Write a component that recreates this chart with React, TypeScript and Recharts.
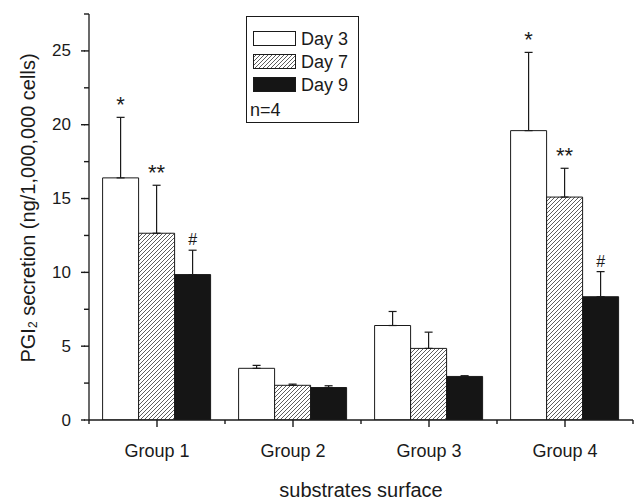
import React from 'react';
import { BarChart, Bar, XAxis, YAxis, ErrorBar, LabelList, Label } from 'recharts';

const categories = ['Group 1', 'Group 2', 'Group 3', 'Group 4'];
const seriesNames = ['Day 3', 'Day 7', 'Day 9'];

const day3 = [16.4, 3.5, 6.4, 19.6];
const day3Err = [4.1, 0.2, 0.95, 5.3];
const day7 = [12.65, 2.35, 4.85, 15.1];
const day7Err = [3.25, 0.08, 1.1, 1.95];
const day9 = [9.85, 2.2, 2.95, 8.35];
const day9Err = [1.65, 0.12, 0.05, 1.7];

const day3Marks = ['*', '', '', '*'];
const day7Marks = ['**', '', '', '**'];
const day9Marks = ['#', '', '', '#'];

const yTicks = [0, 2.5, 5, 7.5, 10, 12.5, 15, 17.5, 20, 22.5, 25, 27.5];

const data = categories.map((name, i) => ({
  name,
  day3: day3[i],
  day3Err: [0, day3Err[i]],
  day3Mark: day3Marks[i],
  day7: day7[i],
  day7Err: [0, day7Err[i]],
  day7Mark: day7Marks[i],
  day9: day9[i],
  day9Err: [0, day9Err[i]],
  day9Mark: day9Marks[i],
}));

const FONT = '"Liberation Sans", Arial, sans-serif';
const INK = '#1a1a1a';
const W = 636;
const H = 501;
const MARGIN = { top: 14, right: 3, left: 29, bottom: 0 };
const Y_AXIS_W = 60;
const PLOT_W = W - MARGIN.left - MARGIN.right - Y_AXIS_W;
const BAND = PLOT_W / categories.length;

// built-in tick lines are 5px; majors get 3px more drawn here
const YTick = (props: any) => {
  const { x, y, payload } = props;
  const major = payload.value % 5 === 0;
  return (
    <g>
      {major && <path d={`M${x - 3},${y}H${x + 1}`} stroke={INK} strokeWidth={1.4} fill="none" />}
      {major && (
        <text x={x - 13} y={y} textAnchor="end" dominantBaseline="central" fontSize={17} fontFamily={FONT} fill={INK}>
          {payload.value}
        </text>
      )}
    </g>
  );
};

const XTick = (props: any) => {
  const { x, y, payload, index } = props;
  const last = index === categories.length - 1;
  const axisY = y - 7;
  return (
    <g>
      <path d={`M${x - BAND / 2},${axisY}V${axisY + 4}`} stroke={INK} strokeWidth={1.4} fill="none" />
      {last && <path d={`M${x + BAND / 2},${axisY}V${axisY + 4}`} stroke={INK} strokeWidth={1.4} fill="none" />}
      <text x={x} y={axisY + 31} textAnchor="middle" dominantBaseline="central" fontSize={18} fontFamily={FONT} fill={INK}>
        {payload.value}
      </text>
    </g>
  );
};

const makeMark = (vals: number[], errs: number[], size: number) => (props: any) => {
  const { x, y, width, height, value, index } = props;
  if (!value) return null;
  // pixels per unit taken from the bar itself
  const ppu = height / vals[index];
  const top = y - errs[index] * ppu;
  return (
    <text x={x + width / 2} y={top - 5} textAnchor="middle" fontSize={size} fontFamily={FONT} fill={INK}>
      {value}
    </text>
  );
};

const hatchPath = 'M-1,1 l2,-2 M0,4 l4,-4 M3,5 l2,-2';

const LegendBox = () => {
  const fills = ['#ffffff', 'url(#lhatch)', '#151515'];
  return (
    <div
      style={{
        position: 'absolute',
        left: 246,
        top: 16,
        border: `1px solid ${INK}`,
        background: '#fff',
        width: 113,
        height: 107,
        boxSizing: 'border-box',
        fontFamily: FONT,
        fontSize: 18,
        color: INK,
      }}
    >
      {seriesNames.map((n, i) => (
        <div key={n} style={{ position: 'absolute', left: 6, top: 14 + i * 23, display: 'flex', alignItems: 'center', height: 15 }}>
          <svg width={44} height={15} style={{ display: 'block' }}>
            <defs>
              <pattern id="lhatch" patternUnits="userSpaceOnUse" width={4} height={4}>
                <rect width={4} height={4} fill="#fff" />
                <path d={hatchPath} stroke="#333" strokeWidth={0.8} />
              </pattern>
            </defs>
            <rect x={0.5} y={0.5} width={42} height={14} fill={fills[i]} stroke={INK} strokeWidth={1} />
          </svg>
          <span style={{ marginLeft: 4, lineHeight: '16px' }}>{n}</span>
        </div>
      ))}
      <div style={{ position: 'absolute', left: 3, top: 84, lineHeight: '18px' }}>n=4</div>
    </div>
  );
};

const YLabel = (props: any) => {
  const { viewBox } = props;
  const cx = 28;
  const cy = viewBox.y + viewBox.height / 2 - 9;
  return (
    <text
      x={cx}
      y={cy}
      transform={`rotate(-90, ${cx}, ${cy})`}
      textAnchor="middle"
      dominantBaseline="central"
      fontSize={20}
      fontFamily={FONT}
      fill={INK}
    >
      PGI
      <tspan fontSize={12} dy={5}>2</tspan>
      <tspan dy={-5}> secretion (ng/1,000,000 cells)</tspan>
    </text>
  );
};

export default function App() {
  return (
    <div style={{ position: 'absolute', left: 0, top: 0, width: W, height: H, background: '#fff' }}>
      <BarChart width={W} height={H} data={data} margin={MARGIN} barCategoryGap="10%" barGap={0}>
        <defs>
          <pattern id="hatch" patternUnits="userSpaceOnUse" width={4} height={4}>
            <rect width={4} height={4} fill="#fff" />
            <path d={hatchPath} stroke="#333" strokeWidth={0.8} />
          </pattern>
        </defs>
        <XAxis
          dataKey="name"
          height={81}
          axisLine={{ stroke: INK, strokeWidth: 1.3 }}
          tickLine={{ stroke: INK, strokeWidth: 1.4 }}
          tickSize={7}
          tickMargin={0}
          tick={<XTick />}
          interval={0}
        >
          <Label
            value="substrates surface"
            position="insideBottom"
            offset={4}
            style={{ fontSize: 20, fontFamily: FONT, fill: INK }}
          />
        </XAxis>
        <YAxis
          width={Y_AXIS_W}
          domain={[0, 27.5]}
          ticks={yTicks}
          interval={0}
          axisLine={{ stroke: INK, strokeWidth: 1.3 }}
          tickLine={{ stroke: INK, strokeWidth: 1.4 }}
          tickSize={5}
          tickMargin={0}
          tick={<YTick />}
          allowDataOverflow
        >
          <Label content={<YLabel />} />
        </YAxis>
        <Bar dataKey="day3" name="Day 3" fill="#ffffff" stroke={INK} strokeWidth={1} isAnimationActive={false}>
          <ErrorBar dataKey="day3Err" width={4} stroke={INK} strokeWidth={1.2} direction="y" />
          <LabelList dataKey="day3Mark" content={makeMark(day3, day3Err, 22)} />
        </Bar>
        <Bar dataKey="day7" name="Day 7" fill="url(#hatch)" stroke={INK} strokeWidth={1} isAnimationActive={false}>
          <ErrorBar dataKey="day7Err" width={4} stroke={INK} strokeWidth={1.2} direction="y" />
          <LabelList dataKey="day7Mark" content={makeMark(day7, day7Err, 22)} />
        </Bar>
        <Bar dataKey="day9" name="Day 9" fill="#151515" stroke={INK} strokeWidth={1} isAnimationActive={false}>
          <ErrorBar dataKey="day9Err" width={4} stroke={INK} strokeWidth={1.2} direction="y" />
          <LabelList dataKey="day9Mark" content={makeMark(day9, day9Err, 16)} />
        </Bar>
      </BarChart>
      <LegendBox />
    </div>
  );
}
